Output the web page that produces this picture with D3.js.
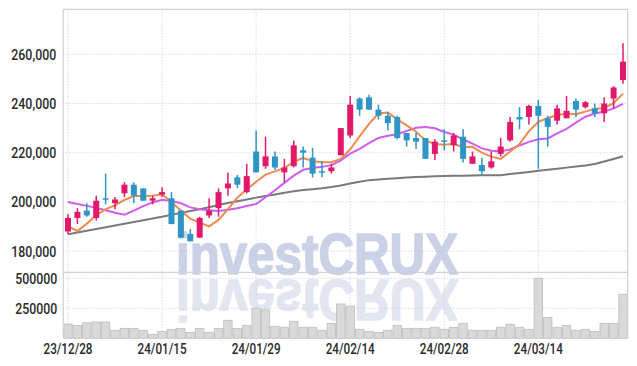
<!DOCTYPE html>
<html><head><meta charset="utf-8">
<script src="https://cdn.jsdelivr.net/npm/d3@7/dist/d3.min.js"></script>
<style>body{margin:0;background:#fff}svg{display:block}</style>
</head><body>
<svg id="c" width="637" height="366"></svg>
<script>
const dates=["23/12/28","24/01/02","24/01/03","24/01/04","24/01/05","24/01/08","24/01/09","24/01/10","24/01/11","24/01/12",
"24/01/15","24/01/16","24/01/17","24/01/18","24/01/19","24/01/22","24/01/23","24/01/24","24/01/25","24/01/26",
"24/01/29","24/01/30","24/01/31","24/02/01","24/02/02","24/02/05","24/02/06","24/02/07","24/02/08","24/02/13",
"24/02/14","24/02/15","24/02/16","24/02/19","24/02/20","24/02/21","24/02/22","24/02/23","24/02/26","24/02/27",
"24/02/28","24/02/29","24/03/04","24/03/05","24/03/06","24/03/07","24/03/08","24/03/11","24/03/12","24/03/13",
"24/03/14","24/03/15","24/03/18","24/03/19","24/03/20","24/03/21","24/03/22","24/03/25","24/03/26","24/03/27"];
const open=[188000,193500,196500,193500,201500,199500,203500,207000,205500,200500,
203000,201500,196500,187000,185500,194500,197500,205500,210000,204000,
220500,214500,218500,212000,214500,221000,218000,212500,212500,219000,
227000,242000,242500,237500,235000,234500,228000,226000,226000,219500,
225000,223000,226500,215500,215000,214000,219500,225000,234500,234500,
239000,234000,233000,234000,241000,238500,238000,236000,242000,249500];
const high=[195000,197500,199500,202500,211500,202000,208000,208000,205500,202500,
206000,204000,196500,189000,194000,201500,205500,212000,211000,215500,
229000,226500,220500,217500,225000,222500,222000,216500,215500,230000,
243000,242500,243500,239500,236500,235000,228000,228000,226000,225500,
229500,228000,229500,220500,218000,220500,226000,234500,238500,239500,
241500,235000,239500,243000,242000,241000,240000,242500,247000,264500];
const low=[187000,191000,194000,192500,199000,197000,202000,199500,200500,199000,
202000,191000,185500,184000,185500,193500,194000,202500,205500,203500,
212000,213500,213000,208000,214000,214000,210000,210000,211500,219000,
226000,235000,237500,233500,229000,225500,222500,221500,217500,217000,
221000,220500,216000,215500,210500,213500,218500,224500,229500,231500,
213500,222500,231500,234000,234500,238000,234500,232500,238000,248000];
const close=[193500,196000,194500,200500,201000,201000,207000,202500,200500,201500,
204000,191000,185500,184000,193500,196500,204000,207500,207000,210500,
212000,218500,214000,214000,223000,220000,211500,212000,214000,230000,
239500,237500,237500,235000,232000,226000,225000,224500,217500,224500,
224500,227000,217500,218500,212500,216500,222500,232500,233500,239000,
235000,230500,238000,237000,237500,240500,236000,240000,246500,257000];
const volume=[119000,108000,130000,136000,136000,67000,83000,83000,67000,33000,
58000,75000,83000,50000,83000,50000,83000,150000,83000,108000,
250000,236000,100000,92000,142000,92000,92000,67000,125000,286000,
269000,75000,58000,50000,67000,108000,83000,83000,83000,92000,
75000,92000,125000,67000,67000,67000,92000,117000,92000,75000,
500000,175000,92000,108000,67000,75000,58000,125000,125000,367000];
const ma5=[190100,188200,191200,194600,197100,198600,200800,202400,202400,202500,
203100,199900,196500,193200,191600,190100,192700,197100,201700,205100,
208200,211100,212400,213800,216300,217900,216500,216100,216100,217500,
221400,226600,231700,235900,236300,233600,231100,228500,225000,223500,
223200,223600,222200,222400,220000,218400,217500,220500,223500,228800,
232500,234100,235200,235900,235600,236700,237800,238200,240100,244000];
const ma10=[200000,199200,198400,197600,196600,195600,194800,196500,198300,199800,
200850,200350,199450,197800,197050,196600,196300,196800,197450,198350,
199150,201900,204750,207750,210700,213050,213800,214250,214950,216900,
219650,221550,223900,226000,226900,227500,228850,230100,230450,229900,
228400,227350,225350,223700,221750,220800,220550,221350,222950,224400,
225450,225800,227850,229700,232200,234600,235950,236700,238000,239800];
const ma60=[186870,187600,188290,189020,189720,190450,191140,191830,192560,193290,
193980,194790,195570,196300,197030,197850,198740,199590,200280,201020,
201750,202400,203050,203700,204350,204880,205200,205570,206060,206710,
207480,208210,208860,209150,209390,209670,209920,210160,210280,210400,
210530,210610,210690,210770,210850,210850,210890,211340,211750,212200,
212640,213050,213500,213940,214390,214800,215410,216420,217480,218580];
const priceTicks=[180000,200000,220000,240000,260000];
const volumeTicks=[250000,500000];
const dateTicks=["23/12/28","24/01/15","24/01/29","24/02/14","24/02/28","24/03/14"];

const svg=d3.select("#c");
const L=63.3,R=627.7,T=9.3,PB=272.3,VB=338.3;
const FONT='Roboto,"Liberation Sans",sans-serif';
const x=d3.scaleBand().domain(dates).range([L,R]).padding(0);
const cx=d=>x(d)+x.bandwidth()/2;
const y=d3.scaleLinear().domain([171425,278250]).range([PB,T]);
const yv=d3.scaleLinear().domain([0,550000]).range([VB,PB]);

// watermark with reflection
const wm=svg.append("g").attr("font-family",'"Liberation Sans",Arial,sans-serif').attr("font-weight","bold").attr("font-size",58);
wm.append("text").attr("x",176).attr("y",274).attr("textLength",282).attr("lengthAdjust","spacingAndGlyphs")
  .attr("fill","#cbd1e6").attr("stroke","#cbd1e6").attr("stroke-width",1.6).text("investCRUX");
wm.append("text").attr("transform","translate(0,554) scale(1,-1)").attr("x",176).attr("y",274).attr("textLength",282).attr("lengthAdjust","spacingAndGlyphs")
  .attr("fill","#e3e6f1").attr("stroke","#e3e6f1").attr("stroke-width",1.6).text("investCRUX");

// grid
const grid=svg.append("g").attr("stroke","#c9cbdc").attr("stroke-width",1).attr("stroke-dasharray","1,2");
grid.selectAll(".gx").data(dateTicks).join("line").attr("x1",d=>cx(d)).attr("x2",d=>cx(d)).attr("y1",T).attr("y2",VB);
grid.selectAll(".gy").data(priceTicks).join("line").attr("x1",L).attr("x2",R).attr("y1",d=>y(d)).attr("y2",d=>y(d));
grid.selectAll(".gv").data(volumeTicks).join("line").attr("x1",L).attr("x2",R).attr("y1",d=>yv(d)).attr("y2",d=>yv(d));

// volume bars
svg.append("g").selectAll("rect").data(dates).join("rect")
  .attr("x",d=>x(d)+0.5).attr("width",x.bandwidth()-1)
  .attr("y",(d,i)=>yv(volume[i])).attr("height",(d,i)=>VB-yv(volume[i]))
  .attr("fill","#d9d9d9").attr("stroke","#bdbdbd").attr("stroke-width",0.8);

// MA lines
const line=arr=>d3.line().x((d,i)=>cx(dates[i])).y(d=>y(d))(arr);
svg.append("path").attr("d",line(ma60)).attr("fill","none").attr("stroke","#7a7a7a").attr("stroke-width",2);
svg.append("path").attr("d",line(ma10)).attr("fill","none").attr("stroke","#cf5ced").attr("stroke-width",2);
svg.append("path").attr("d",line(ma5)).attr("fill","none").attr("stroke","#ef8a4e").attr("stroke-width",2);

// candles
const UP="#e2196b",DN="#2f95c7";
const cg=svg.append("g");
dates.forEach((d,i)=>{
  const col=close[i]>=open[i]?UP:DN;
  cg.append("line").attr("x1",cx(d)).attr("x2",cx(d)).attr("y1",y(high[i])).attr("y2",y(low[i])).attr("stroke",col).attr("stroke-width",1.5);
  const top=y(Math.max(open[i],close[i])), bot=y(Math.min(open[i],close[i]));
  cg.append("rect").attr("x",cx(d)-3).attr("width",6).attr("y",top).attr("height",Math.max(1.5,bot-top)).attr("fill",col);
});

// frame
const fr=svg.append("g").attr("stroke","#d0d0d6").attr("stroke-width",1.2).attr("fill","none");
fr.append("line").attr("x1",L).attr("x2",R).attr("y1",T).attr("y2",T);
fr.append("line").attr("x1",L).attr("x2",L).attr("y1",T).attr("y2",VB);
fr.append("line").attr("x1",R).attr("x2",R).attr("y1",T).attr("y2",VB);
fr.append("line").attr("x1",L).attr("x2",R).attr("y1",PB).attr("y2",PB);

// axes
function styleAxis(w){return g=>{g.select(".domain").remove();g.selectAll("text").attr("font-family",FONT).attr("font-size",15).attr("font-weight",500).attr("fill","#2a2a2a").attr("textLength",w).attr("lengthAdjust","spacingAndGlyphs");};}
svg.append("g").attr("transform",`translate(${L},0)`).call(d3.axisLeft(y).tickValues(priceTicks).tickFormat(d3.format(",")).tickSize(0).tickPadding(7)).call(styleAxis(45));
svg.append("g").attr("transform",`translate(${L},0)`).call(d3.axisLeft(yv).tickValues(volumeTicks).tickFormat(d3.format("d")).tickSize(0).tickPadding(6)).call(styleAxis(42));
svg.append("g").attr("transform",`translate(0,${VB})`).call(d3.axisBottom(x).tickValues(dateTicks).tickSize(0).tickPadding(5)).call(styleAxis(49));
</script>
</body></html>
